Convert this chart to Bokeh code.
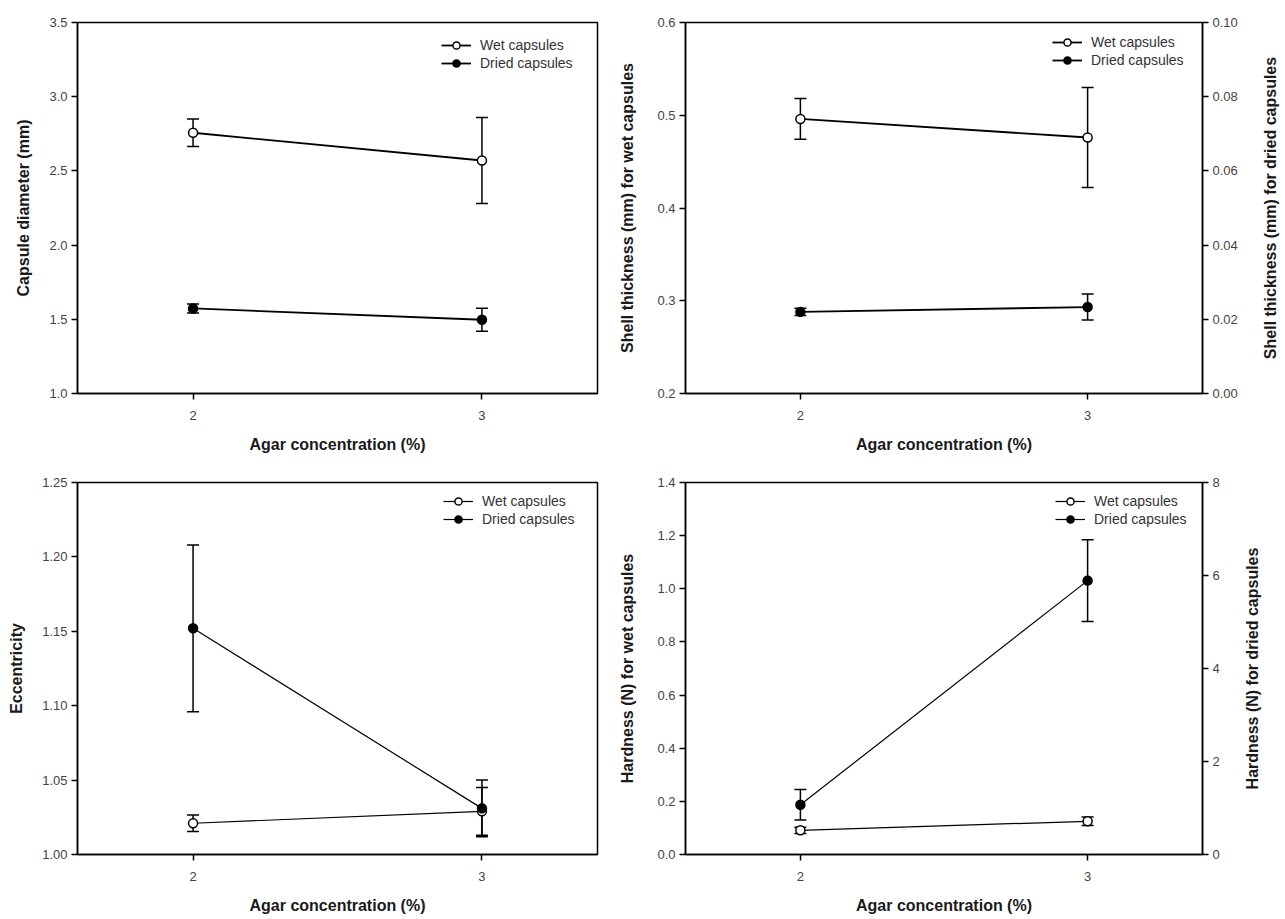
from bokeh.plotting import figure
from bokeh.models import (Range1d, LinearAxis, FixedTicker, PrintfTickFormatter, ColumnDataSource,
                          Whisker, TeeHead, Legend, LegendItem, Title)
from bokeh.layouts import row, column
from bokeh.embed import file_html
from bokeh.resources import INLINE

FONT = "Liberation Sans"

# ---------------- data ----------------
agar = [2, 3]
x_ticks = [2, 3]
x_label = "Agar concentration (%)"
series_names = ["Wet capsules", "Dried capsules"]

diam_wet = [2.757, 2.570]
diam_wet_err = [0.092, 0.290]
diam_dry = [1.573, 1.497]
diam_dry_err = [0.030, 0.078]
diam_ticks = [1.0, 1.5, 2.0, 2.5, 3.0, 3.5]

shell_wet = [0.496, 0.476]
shell_wet_err = [0.022, 0.054]
shell_dry = [0.0220, 0.0233]
shell_dry_err = [0.0010, 0.0035]
shell_wet_ticks = [0.2, 0.3, 0.4, 0.5, 0.6]
shell_dry_ticks = [0.00, 0.02, 0.04, 0.06, 0.08, 0.10]

ecc_wet = [1.021, 1.029]
ecc_wet_err = [0.0055, 0.016]
ecc_dry = [1.152, 1.031]
ecc_dry_err = [0.056, 0.019]
ecc_ticks = [1.00, 1.05, 1.10, 1.15, 1.20, 1.25]

hard_wet = [0.091, 0.125]
hard_wet_err = [0.012, 0.016]
hard_dry = [1.07, 5.89]
hard_dry_err = [0.33, 0.88]
hard_wet_ticks = [0.0, 0.2, 0.4, 0.6, 0.8, 1.0, 1.2, 1.4]
hard_dry_ticks = [0, 2, 4, 6, 8]


def style_axis(ax, ticks, fmt):
    ax.ticker = FixedTicker(ticks=ticks)
    ax.formatter = PrintfTickFormatter(format=fmt)
    ax.axis_line_width = 1.5
    ax.axis_line_color = "black"
    ax.major_tick_line_width = 1.5
    ax.major_tick_in = 0
    ax.major_tick_out = 6
    ax.minor_tick_line_color = None
    ax.major_label_text_font = FONT
    ax.major_label_text_font_size = "13px"
    ax.major_label_text_color = "#444444"
    ax.axis_label_text_font = FONT
    ax.axis_label_text_font_size = "16px"
    ax.axis_label_text_font_style = "bold"
    ax.axis_label_text_color = "#1a1a1a"


def panel(width, height, mb, wet, wet_err, dry, dry_err, yr, yticks, yfmt,
          ylabel, yr2=None, yticks2=None, yfmt2=None, lw=1.6, legend_xy=(367, 324),
          ylab_standoff=14):
    p = figure(width=width, height=height, output_backend="svg", toolbar_location=None,
               x_range=Range1d(1.6, 3.4), y_range=Range1d(*yr),
               min_border_left=mb[0], min_border_right=mb[1], min_border_top=mb[2],
               min_border_bottom=mb[3])
    p.xgrid.visible = False
    p.ygrid.visible = False
    p.outline_line_color = "black"
    p.outline_line_width = 1.5
    p.outline_line_alpha = 1
    p.background_fill_color = "white"
    p.border_fill_color = "white"

    style_axis(p.xaxis[0], x_ticks, "%d")
    p.xaxis[0].axis_label = x_label
    p.xaxis[0].major_label_standoff = 11
    p.xaxis[0].axis_label_standoff = 13
    style_axis(p.yaxis[0], yticks, yfmt)
    p.yaxis[0].axis_label = ylabel
    p.yaxis[0].major_label_standoff = 4
    p.yaxis[0].axis_label_standoff = ylab_standoff

    dry_range = "default"
    if yr2 is not None:
        p.extra_y_ranges = {"dry": Range1d(*yr2)}
        ax2 = LinearAxis(y_range_name="dry")
        style_axis(ax2, yticks2, yfmt2)
        ax2.major_label_standoff = 4
        p.add_layout(ax2, "right")
        dry_range = "dry"

    sw = ColumnDataSource(dict(x=agar, y=wet, up=[v + e for v, e in zip(wet, wet_err)],
                               lo=[v - e for v, e in zip(wet, wet_err)]))
    sd = ColumnDataSource(dict(x=agar, y=dry, up=[v + e for v, e in zip(dry, dry_err)],
                               lo=[v - e for v, e in zip(dry, dry_err)]))

    lw_line = p.line("x", "y", source=sw, line_color="black", line_width=lw)
    ld_line = p.line("x", "y", source=sd, line_color="black", line_width=lw, y_range_name=dry_range)

    for src, rn in ((sw, "default"), (sd, dry_range)):
        p.add_layout(Whisker(source=src, base="x", upper="up", lower="lo", dimension="height",
                             line_color="black", line_width=1.5, y_range_name=rn,
                             upper_head=TeeHead(size=12, line_width=1.5, line_color="black"),
                             lower_head=TeeHead(size=12, line_width=1.5, line_color="black")))

    lw_sc = p.scatter("x", "y", source=sw, marker="circle", size=9, fill_color="white",
                      line_color="black", line_width=1.5)
    ld_sc = p.scatter("x", "y", source=sd, marker="circle", size=9, fill_color="black",
                      line_color="black", line_width=1.5, y_range_name=dry_range)

    leg = Legend(items=[LegendItem(label=series_names[0], renderers=[lw_line, lw_sc]),
                        LegendItem(label=series_names[1], renderers=[ld_line, ld_sc])],
                 location=legend_xy, border_line_alpha=0, background_fill_alpha=0,
                 padding=0, spacing=0, margin=0, label_height=18, glyph_height=18,
                 glyph_width=30, label_standoff=9, label_text_font=FONT,
                 label_text_font_size="14px", label_text_color="#333333")
    p.add_layout(leg)
    return p


def side_label(text, width, height, border_left, top, bottom):
    # narrow strip that carries a bottom-to-top reading axis title for the right-hand axis
    s = figure(width=width, height=height, output_backend="svg", toolbar_location=None,
               x_range=Range1d(0, 1), y_range=Range1d(0, 1),
               x_axis_location=None, y_axis_location=None,
               min_border_left=border_left, min_border_right=0,
               min_border_top=top, min_border_bottom=bottom)
    s.xgrid.visible = False
    s.ygrid.visible = False
    s.outline_line_color = None
    s.border_fill_color = "white"
    s.background_fill_color = "white"
    s.add_layout(Title(text=text, align="center", text_font=FONT, text_font_size="16px",
                       text_font_style="bold", text_color="#1a1a1a", standoff=2), "left")
    return s


p1 = panel(612, 463, (77, 15, 22, 70), diam_wet, diam_wet_err, diam_dry, diam_dry_err,
           (1.0, 3.5), diam_ticks, "%.1f", "Capsule diameter (mm)", lw=1.8, legend_xy=(364, 321))
p2 = panel(636, 463, (73, 46, 22, 70), shell_wet, shell_wet_err, shell_dry, shell_dry_err,
           (0.2, 0.6), shell_wet_ticks, "%.1f", "Shell thickness (mm) for wet capsules",
           yr2=(0.0, 0.10), yticks2=shell_dry_ticks, yfmt2="%.2f", lw=1.8,
           legend_xy=(367, 324), ylab_standoff=18)
l2 = side_label("Shell thickness (mm) for dried capsules", 34, 463, 31, 22, 70)

p3 = panel(612, 453, (77, 15, 19, 61), ecc_wet, ecc_wet_err, ecc_dry, ecc_dry_err,
           (1.0, 1.25), ecc_ticks, "%.2f", "Eccentricity", lw=1.2, legend_xy=(366, 326))
p4 = panel(618, 453, (73, 28, 19, 61), hard_wet, hard_wet_err, hard_dry, hard_dry_err,
           (0.0, 1.4), hard_wet_ticks, "%.1f", "Hardness (N) for wet capsules",
           yr2=(0, 8), yticks2=hard_dry_ticks, yfmt2="%d", lw=1.2,
           legend_xy=(370, 326), ylab_standoff=18)
l4 = side_label("Hardness (N) for dried capsules", 52, 453, 31, 19, 61)

layout = column(row(p1, p2, l2, spacing=0), row(p3, p4, l4, spacing=0), spacing=0)

open("out.html", "w").write(file_html(layout, INLINE))
